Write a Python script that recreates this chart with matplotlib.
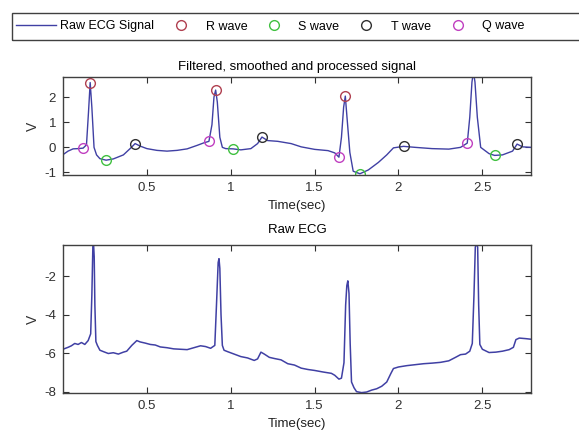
import numpy as np
import matplotlib
matplotlib.use('Agg')
import matplotlib.pyplot as plt
from matplotlib.lines import Line2D
from matplotlib.patches import Rectangle

plt.rcParams['font.family'] = ['Liberation Sans', 'DejaVu Sans']
plt.rcParams['axes.unicode_minus'] = False

# filtered / smoothed signal (top panel)
t_filt = [0.00, 0.03, 0.06, 0.09, 0.12, 0.14, 0.152, 0.162, 0.172, 0.185, 0.20, 0.22,
          0.257, 0.30, 0.36, 0.40, 0.43, 0.46, 0.50, 0.56, 0.62, 0.68, 0.74, 0.80,
          0.84, 0.87, 0.888, 0.90, 0.91, 0.92, 0.935, 0.95, 0.97, 1.014, 1.06, 1.12,
          1.16, 1.186, 1.22, 1.28, 1.36, 1.42, 1.50, 1.58, 1.62, 1.645, 1.66, 1.673,
          1.683, 1.693, 1.71, 1.73, 1.77, 1.82, 1.88, 1.93, 1.97, 2.03, 2.10, 2.20,
          2.30, 2.37, 2.41, 2.425, 2.438, 2.447, 2.456, 2.47, 2.49, 2.51, 2.54, 2.573,
          2.62, 2.68, 2.707, 2.74, 2.79]
v_filt = [-0.29, -0.15, -0.06, -0.05, -0.03, 0.10, 1.40, 2.58, 1.60, 0.00, -0.30, -0.45,
          -0.51, -0.46, -0.30, -0.05, 0.15, 0.05, -0.05, -0.12, -0.15, -0.12, -0.06, 0.08,
          0.18, 0.24, 0.90, 2.00, 2.28, 1.80, 0.40, 0.00, -0.05, -0.06, -0.10, -0.05,
          0.15, 0.41, 0.27, 0.24, 0.15, 0.02, -0.08, -0.13, -0.22, -0.39, 0.40, 1.60,
          2.04, 1.20, -0.20, -0.95, -1.05, -0.90, -0.60, -0.30, -0.02, 0.04, 0.00, -0.05,
          -0.07, 0.00, 0.17, 1.20, 2.60, 3.00, 2.60, 1.20, 0.00, -0.10, -0.25, -0.32,
          -0.30, -0.15, 0.13, 0.02, 0.00]

# detected wave points
r_t = [0.162, 0.910, 1.683]
r_v = [2.58, 2.28, 2.04]
s_t = [0.257, 1.014, 1.770, 2.573]
s_v = [-0.51, -0.06, -1.05, -0.32]
tw_t = [0.430, 1.186, 2.030, 2.707]
tw_v = [0.15, 0.41, 0.04, 0.13]
q_t = [0.120, 0.870, 1.645, 2.410]
q_v = [-0.03, 0.24, -0.39, 0.17]

# raw ECG (bottom panel)
t_raw = [0.00, 0.03, 0.05, 0.07, 0.09, 0.11, 0.13, 0.15, 0.165, 0.172, 0.178, 0.182,
         0.186, 0.19, 0.196, 0.205, 0.22, 0.24, 0.27, 0.30, 0.33, 0.36, 0.38, 0.41,
         0.44, 0.46, 0.49, 0.52, 0.55, 0.58, 0.62, 0.66, 0.70, 0.74, 0.78, 0.82,
         0.85, 0.88, 0.905, 0.915, 0.925, 0.93, 0.935, 0.942, 0.95, 0.96, 0.98, 1.02,
         1.06, 1.10, 1.14, 1.16, 1.18, 1.20, 1.23, 1.26, 1.30, 1.34, 1.38, 1.42,
         1.46, 1.50, 1.55, 1.60, 1.62, 1.645, 1.66, 1.675, 1.685, 1.692, 1.698, 1.705,
         1.712, 1.72, 1.735, 1.75, 1.78, 1.81, 1.84, 1.87, 1.90, 1.93, 1.955, 1.97,
         2.00, 2.05, 2.10, 2.15, 2.20, 2.25, 2.30, 2.34, 2.37, 2.40, 2.425, 2.44,
         2.45, 2.458, 2.465, 2.472, 2.478, 2.485, 2.50, 2.54, 2.58, 2.62, 2.66, 2.685,
         2.70, 2.72, 2.76, 2.79]
v_raw = [-5.80, -5.70, -5.62, -5.50, -5.55, -5.45, -5.55, -5.35, -5.00, -3.00, -0.50, -0.30,
         -1.00, -3.50, -5.40, -5.60, -5.85, -5.92, -6.02, -5.98, -6.05, -5.95, -5.90, -5.60,
         -5.35, -5.42, -5.48, -5.55, -5.58, -5.68, -5.72, -5.78, -5.80, -5.82, -5.72, -5.62,
         -5.66, -5.75, -5.60, -3.50, -1.30, -1.10, -1.60, -4.00, -5.60, -5.85, -5.92, -6.05,
         -6.18, -6.25, -6.38, -6.30, -5.95, -6.05, -6.22, -6.28, -6.35, -6.55, -6.62, -6.78,
         -6.85, -6.90, -6.98, -7.05, -7.15, -7.35, -7.30, -6.50, -3.50, -2.50, -2.25, -2.90,
         -5.50, -7.50, -7.80, -8.00, -8.05, -8.02, -7.92, -7.85, -7.72, -7.50, -7.05, -6.80,
         -6.72, -6.65, -6.60, -6.55, -6.52, -6.48, -6.40, -6.22, -6.08, -6.05, -5.90, -5.50,
         -3.00, -0.50, -0.30, -0.50, -3.50, -5.55, -5.80, -5.97, -5.95, -5.90, -5.82, -5.70,
         -5.30, -5.22, -5.25, -5.28]

line_col = '#4040a4'
r_col, s_col, t_col, q_col = '#b04050', '#40c040', '#303030', '#c040c0'

fig = plt.figure(figsize=(5.79, 4.32), dpi=100)
ax1 = fig.add_axes([63/579, 1-175/432, 468/579, 98/432])
ax2 = fig.add_axes([63/579, 1-393/432, 468/579, 148/432])

ax1.plot(t_filt, v_filt, color=line_col, lw=1.0)
mk = dict(ls='none', marker='o', ms=7, mfc='none', mew=1.0)
ax1.plot(r_t, r_v, mec=r_col, **mk)
ax1.plot(s_t, s_v, mec=s_col, **mk)
ax1.plot(tw_t, tw_v, mec=t_col, **mk)
ax1.plot(q_t, q_v, mec=q_col, **mk)
ax1.set_xlim(0, 2.79)
ax1.set_ylim(-1.1, 2.8)
ax1.set_yticks([-1, 0, 1, 2])
ax1.set_title('Filtered, smoothed and processed signal', fontsize=9.5, pad=5)

ax2.plot(t_raw, v_raw, color=line_col, lw=1.1)
ax2.set_xlim(0, 2.79)
ax2.set_ylim(-8.07, -0.39)
ax2.set_yticks([-8, -6, -4, -2])
ax2.set_title('Raw ECG', fontsize=9.5, pad=8.5)

for ax in (ax1, ax2):
    ax.set_xticks([0.5, 1, 1.5, 2, 2.5])
    ax.set_xticklabels(['0.5', '1', '1.5', '2', '2.5'])
    ax.tick_params(direction='in', top=True, right=True, length=4, width=0.8,
                   labelsize=9.5, colors='#303030', pad=5)
    ax.set_xlabel('Time(sec)', fontsize=9.5, labelpad=4, color='#202020')
    ax.set_ylabel('V', fontsize=10, labelpad=3, color='#303030')
    for sp in ax.spines.values():
        sp.set_color('#404040')
        sp.set_linewidth(1.0)

handles = [Line2D([], [], color=line_col, lw=1.0),
           Line2D([], [], mec=r_col, **mk),
           Line2D([], [], mec=s_col, **mk),
           Line2D([], [], mec=t_col, **mk),
           Line2D([], [], mec=q_col, **mk)]
labels = ['Raw ECG Signal', 'R wave', 'S wave', 'T wave', 'Q wave']
leg = fig.legend(handles, labels, ncol=5, loc='center left',
                 bbox_to_anchor=(16/579, 1-26.5/432), bbox_transform=fig.transFigure,
                 fontsize=9, frameon=False,
                 handlelength=3.2, handletextpad=0.35, columnspacing=0.55,
                 borderpad=0, borderaxespad=0)

# legend box runs past the right edge, as in the original
fig.add_artist(Rectangle((12/579, 1-40/432), 580/579, 27/432,
                         transform=fig.transFigure, fill=False,
                         edgecolor='#404040', lw=1.0, clip_on=False))

fig.savefig('out.png', dpi=100)
